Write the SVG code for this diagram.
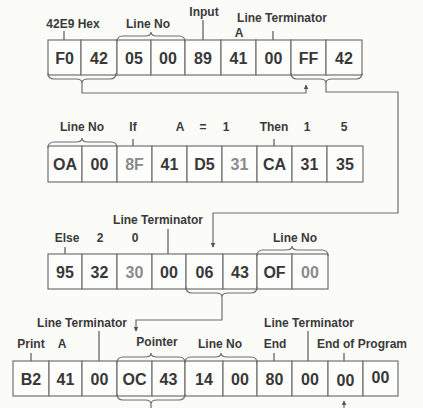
<svg xmlns="http://www.w3.org/2000/svg" width="423" height="408" viewBox="0 0 423 408">
<defs>
<style>
.bg{fill:#fbfbf8}
.cell{fill:#fdfdfb;stroke:#727272;stroke-width:1.2}
.v{font-family:"Liberation Sans",Arial,sans-serif;font-weight:bold;font-size:16px;fill:#383838;text-anchor:middle}
.lt{fill:#8a8a8a}
.lb{font-family:"Liberation Sans",Arial,sans-serif;font-weight:bold;font-size:12px;fill:#3a3a3a;text-anchor:middle}
.ln{fill:none;stroke:#6e6e6e;stroke-width:1.2}
.tk{fill:none;stroke:#666;stroke-width:1.3}
</style>
<marker id="ah" viewBox="0 0 8 8" refX="7" refY="4" markerWidth="5" markerHeight="5" orient="auto" markerUnits="userSpaceOnUse">
<path d="M0,0 L8,4 L0,8 Z" fill="#555"/>
</marker>
</defs>
<rect class="bg" x="0" y="0" width="423" height="408"/>

<g id="row1">
<rect class="cell" x="48" y="40" width="33" height="35"/>
<rect class="cell" x="81" y="40" width="36" height="35"/>
<rect class="cell" x="117" y="40" width="34" height="35"/>
<rect class="cell" x="151" y="40" width="34" height="35"/>
<rect class="cell" x="185" y="40" width="36" height="35"/>
<rect class="cell" x="221" y="40" width="35" height="35"/>
<rect class="cell" x="256" y="40" width="35" height="35"/>
<rect class="cell" x="291" y="40" width="35" height="35"/>
<rect class="cell" x="326" y="40" width="36" height="35"/>
<text class="v" x="64.5" y="63.5">F0</text>
<text class="v" x="99" y="63.5">42</text>
<text class="v" x="134" y="63.5">05</text>
<text class="v" x="168" y="63.5">00</text>
<text class="v" x="203" y="63.5">89</text>
<text class="v" x="238.5" y="63.5">41</text>
<text class="v" x="273.5" y="63.5">00</text>
<text class="v" x="308.5" y="63.5">FF</text>
<text class="v" x="344" y="63.5">42</text>
<text class="lb" x="73" y="28">42E9 Hex</text>
<text class="lb" x="148" y="28">Line No</text>
<text class="lb" x="204" y="16">Input</text>
<text class="lb" x="282" y="22">Line Terminator</text>
<text class="lb" x="239" y="37">A</text>
<path class="tk" d="M64,31 V40 M203,20 V40 M273,31 V40"/>
<path class="ln" d="M117,42 Q117,36 123,36 L145,36 Q151,36 151,32 Q151,36 157,36 L179,36 Q185,36 185,42"/>
</g>

<g id="row2">
<rect class="cell" x="48" y="146" width="34" height="36"/>
<rect class="cell" x="82" y="146" width="35" height="36"/>
<rect class="cell" x="117" y="146" width="35" height="36"/>
<rect class="cell" x="152" y="146" width="35" height="36"/>
<rect class="cell" x="187" y="146" width="35" height="36"/>
<rect class="cell" x="222" y="146" width="35" height="36"/>
<rect class="cell" x="257" y="146" width="35" height="36"/>
<rect class="cell" x="292" y="146" width="35" height="36"/>
<rect class="cell" x="327" y="146" width="36" height="36"/>
<text class="v" x="65" y="170">OA</text>
<text class="v" x="99.5" y="170">00</text>
<text class="v lt" x="134.5" y="170">8F</text>
<text class="v" x="169.5" y="170">41</text>
<text class="v" x="204.5" y="170">D5</text>
<text class="v lt" x="239.5" y="170">31</text>
<text class="v" x="274.5" y="170">CA</text>
<text class="v" x="309.5" y="170">31</text>
<text class="v" x="345" y="170">35</text>
<text class="lb" x="82" y="131">Line No</text>
<text class="lb" x="133" y="131">If</text>
<text class="lb" x="180" y="131">A</text>
<text class="lb" x="203" y="131">=</text>
<text class="lb" x="226" y="131">1</text>
<text class="lb" x="274" y="131">Then</text>
<text class="lb" x="307" y="131">1</text>
<text class="lb" x="344" y="131">5</text>
<path class="tk" d="M133,139 V146 M274,139 V146"/>
<path class="ln" d="M48,148 Q48,142 54,142 L76,142 Q82,142 82,138 Q82,142 88,142 L111,142 Q117,142 117,148"/>
</g>

<g id="row3">
<rect class="cell" x="48" y="254" width="34" height="35"/>
<rect class="cell" x="82" y="254" width="35" height="35"/>
<rect class="cell" x="117" y="254" width="35" height="35"/>
<rect class="cell" x="152" y="254" width="34" height="35"/>
<rect class="cell" x="186" y="254" width="37" height="35"/>
<rect class="cell" x="223" y="254" width="34" height="35"/>
<rect class="cell" x="257" y="254" width="35" height="35"/>
<rect class="cell" x="292" y="254" width="36" height="35"/>
<text class="v" x="65" y="277.5">95</text>
<text class="v" x="99.5" y="277.5">32</text>
<text class="v lt" x="134.5" y="277.5">30</text>
<text class="v" x="169" y="277.5">00</text>
<text class="v" x="204.5" y="277.5">06</text>
<text class="v" x="240" y="277.5">43</text>
<text class="v" x="274.5" y="277.5">OF</text>
<text class="v lt" x="310" y="277.5">00</text>
<text class="lb" x="158" y="224">Line Terminator</text>
<text class="lb" x="67" y="242">Else</text>
<text class="lb" x="100" y="242">2</text>
<text class="lb" x="135" y="242">0</text>
<text class="lb" x="295" y="242">Line No</text>
<path class="tk" d="M65,247 V254 M168,229 V254"/>
<path class="ln" d="M257,256 Q257,250 263,250 L286,250 Q292,250 292,246 Q292,250 298,250 L322,250 Q328,250 328,256"/>
</g>

<g id="row4">
<rect class="cell" x="13" y="361" width="36" height="35"/>
<rect class="cell" x="49" y="361" width="33" height="35"/>
<rect class="cell" x="82" y="361" width="35" height="35"/>
<rect class="cell" x="117" y="361" width="35" height="35"/>
<rect class="cell" x="152" y="361" width="33" height="35"/>
<rect class="cell" x="185" y="361" width="38" height="35"/>
<rect class="cell" x="223" y="361" width="34" height="35"/>
<rect class="cell" x="257" y="361" width="35" height="35"/>
<rect class="cell" x="292" y="361" width="36" height="35"/>
<rect class="cell" x="328" y="361" width="35" height="35"/>
<rect class="cell" x="363" y="361" width="35" height="35"/>
<text class="v" x="31" y="384.5">B2</text>
<text class="v" x="65.5" y="384.5">41</text>
<text class="v" x="99.5" y="384.5">00</text>
<text class="v" x="134.5" y="384.5">OC</text>
<text class="v" x="168.5" y="384.5">43</text>
<text class="v" x="204" y="384.5">14</text>
<text class="v" x="240" y="384.5">00</text>
<text class="v" x="274.5" y="384.5">80</text>
<text class="v" x="310" y="384.5">00</text>
<text class="v" x="345.5" y="385.5">00</text>
<text class="v" x="380.5" y="382.5">00</text>
<text class="lb" x="82" y="327">Line Terminator</text>
<text class="lb" x="31" y="348">Print</text>
<text class="lb" x="62" y="348">A</text>
<text class="lb" x="157" y="346">Pointer</text>
<text class="lb" x="220" y="348">Line No</text>
<text class="lb" x="275" y="348">End</text>
<text class="lb" x="309" y="327">Line Terminator</text>
<text class="lb" x="362" y="348">End of Program</text>
<path class="tk" d="M31,353 V361 M99,331 V361 M274,353 V361 M308,331 V361 M344,353 V361"/>
<path class="ln" d="M117,363 Q117,357 123,357 L145,357 Q151,357 151,353 Q151,357 157,357 L179,357 Q185,357 185,363"/>
<path class="ln" d="M185,363 Q185,357 191,357 L215,357 Q221,357 221,353 Q221,357 227,357 L251,357 Q257,357 257,363"/>
<path class="ln" d="M117,394 Q117,400 123,400 L145,400 Q151,400 151,404 Q151,400 157,400 L179,400 Q185,400 185,394"/>
</g>

<g id="connectors">
<path class="ln" d="M48,73 Q48,79 54,79 L76,79 Q82,79 82,83 Q82,79 88,79 L110,79 Q116,79 116,73"/>
<path class="ln" d="M82,83 V93 H306 V85" marker-end="url(#ah)"/>
<path class="ln" d="M291,73 Q291,79 297,79 L320,79 Q326,79 326,83 Q326,79 332,79 L356,79 Q362,79 362,73"/>
<path class="ln" d="M326,83 V92 H398 V213 H213 V247" marker-end="url(#ah)"/>
<path class="ln" d="M186,287 Q186,293 192,293 L216,293 Q222,293 222,297 Q222,293 228,293 L251,293 Q257,293 257,287"/>
<path class="ln" d="M222,297 V320 H136 V331" marker-end="url(#ah)"/>
<path class="ln" d="M151,404 V408"/>
<path class="ln" d="M344,408 V401" marker-end="url(#ah)"/>
</g>
</svg>
